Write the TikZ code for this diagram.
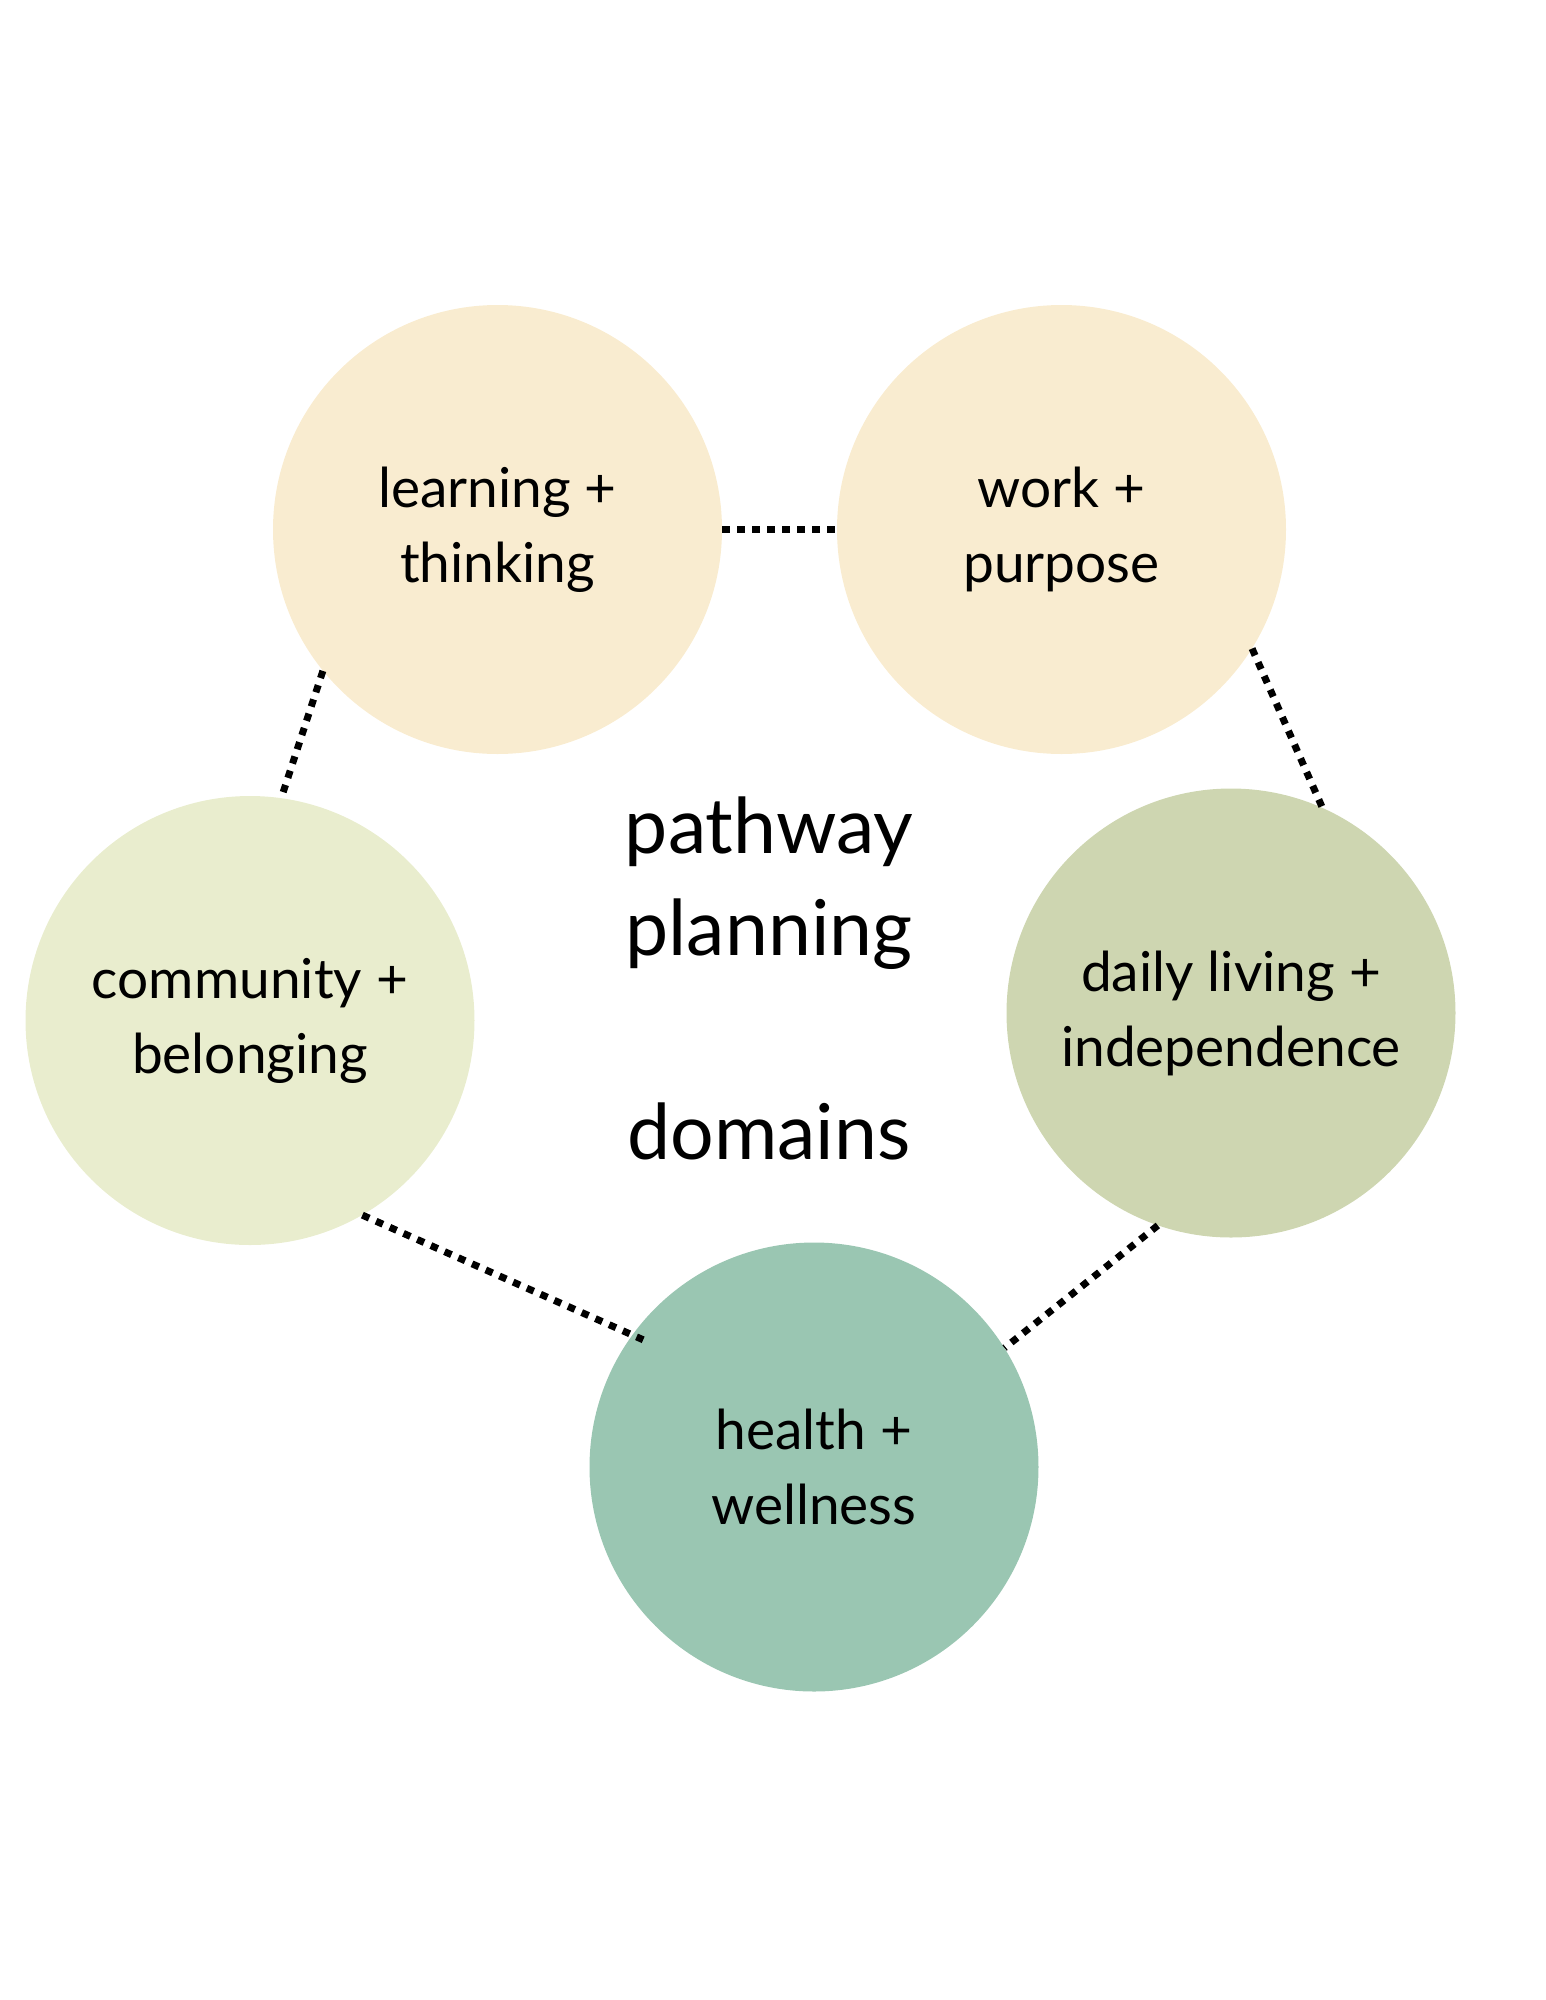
\documentclass[tikz,border=0pt]{standalone}
\usepackage{fontspec}
\setmainfont{Lato}
\usetikzlibrary{positioning}

\begin{document}
\begin{tikzpicture}[x=1pt,y=1pt,yscale=-1,xscale=1,
  domainbox/.style={circle, minimum size=449pt, inner sep=0pt, align=center,
    font=\fontsize{55}{75}\selectfont},
  dotlink/.style={line width=7pt, dash pattern=on 7.5pt off 7.5pt}]
\useasboundingbox (0,0) rectangle (1545,2000);

%Shape: Circle [id:learning]
\node [domainbox, fill={rgb, 255:red, 249; green, 236; blue, 208 }] (learn) at (497.5,529.5) {learning +\\thinking};
%Shape: Circle [id:work]
\node [domainbox, fill={rgb, 255:red, 249; green, 236; blue, 208 }] (work) at (1061.5,529.5) {work +\\purpose};
%Shape: Circle [id:community]
\node [domainbox, fill={rgb, 255:red, 233; green, 237; blue, 206 }] (comm) at (250,1020.5) {community +\\belonging};
%Shape: Circle [id:daily]
\node [domainbox, fill={rgb, 255:red, 206; green, 214; blue, 177 }] (daily) at (1231,1013) {daily living +\\independence};
%Shape: Circle [id:health]
\node [domainbox, fill={rgb, 255:red, 154; green, 198; blue, 178 }] (health) at (814,1467) {health +\\wellness};

%Straight Lines [id:links]
\draw [dotlink] (learn.east) -- (work.west) ;
\draw [dotlink] (work.-32) -- (daily.66) ;
\draw [dotlink] (learn.219) -- (comm.82) ;
\draw [dotlink, shorten >=-12pt] (comm.-60) -- (health.144) ;
\draw [dotlink] (daily.251) -- (health.32.5) ;

% Text Node
\node [align=center, font=\fontsize{77}{102}\selectfont] (title) at (769,978) {pathway\\planning\\\mbox{}\\domains};

\end{tikzpicture}
\end{document}
